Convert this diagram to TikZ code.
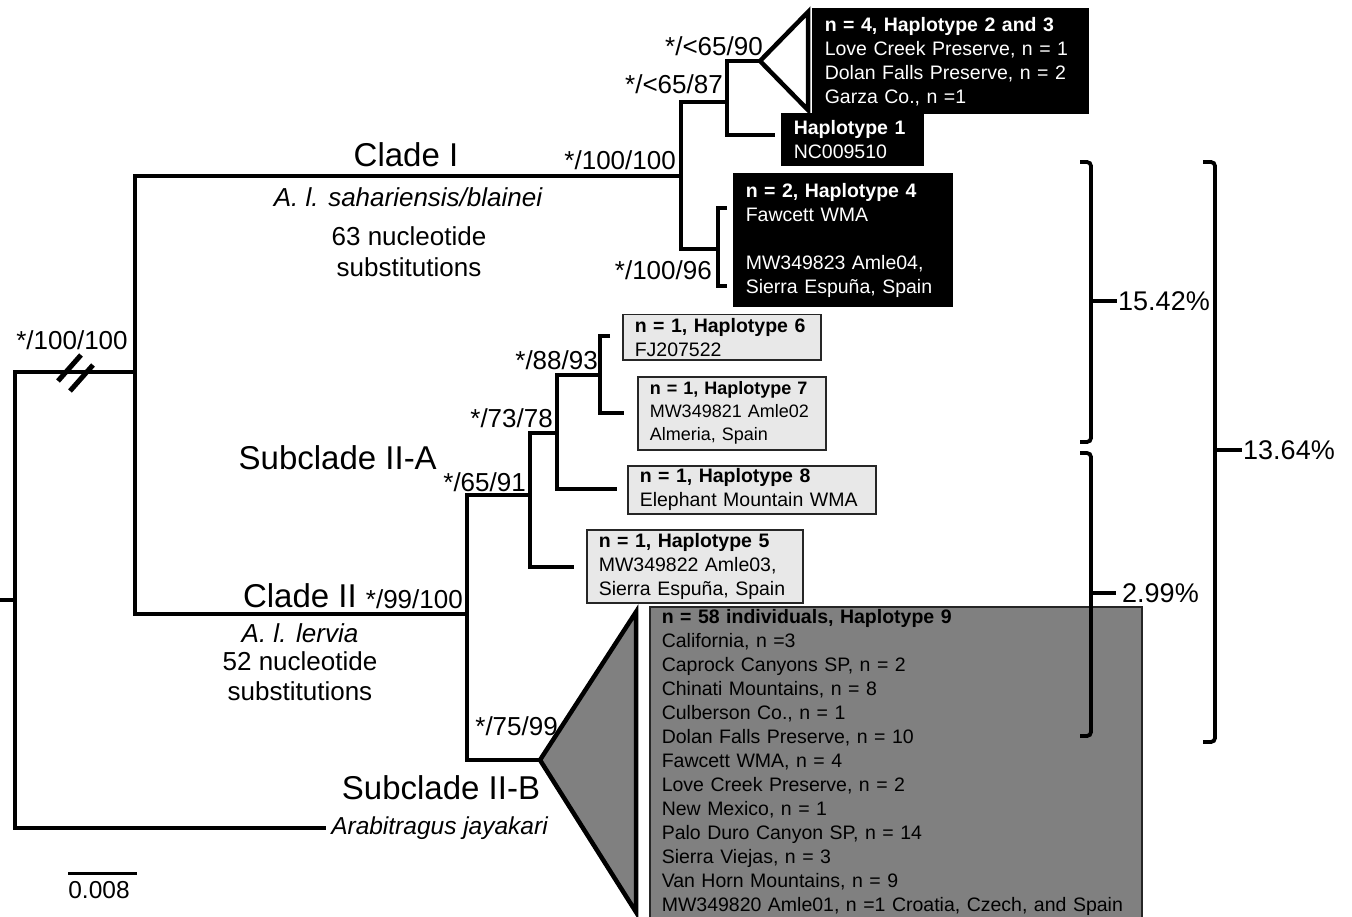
\documentclass[tikz,border=0pt]{standalone}
\usepackage{fontspec}
\setmainfont{Liberation Sans}
\usetikzlibrary{positioning}
\newcommand{\boxfont}{\fontsize{19.5}{24}\selectfont}
\newcommand{\smallboxfont}{\fontsize{18}{23}\selectfont}
\newcommand{\suppfont}{\fontsize{26}{30}\selectfont}
\newcommand{\cladefont}{\fontsize{33}{38}\selectfont}
\newcommand{\notefont}{\fontsize{26}{30}\selectfont}
\newcommand{\pctfont}{\fontsize{27}{30}\selectfont}

\begin{document}
\begin{tikzpicture}[x=1pt,y=-1pt,
    branch/.style={line width=4.5pt},
    brk/.style={line width=3.8pt,rounded corners=4pt},
    supp/.style={anchor=base east,inner sep=0pt,font=\suppfont},
    clade/.style={anchor=base,inner sep=0pt,font=\cladefont},
    note/.style={anchor=base,inner sep=0pt,font=\notefont},
    pct/.style={anchor=west,inner sep=1pt,font=\pctfont},
    hapbox/.style={anchor=north west,align=left,inner xsep=12pt,inner ysep=0pt,
                   font=\boxfont,line width=1.5pt},
    darkbox/.style={hapbox,draw=black,fill=black,text=white},
    lightbox/.style={hapbox,draw=black!85,fill=black!9},
    bigbox/.style={hapbox,inner ysep=3pt,draw=black!85,fill=black!50}]
  \useasboundingbox (0,0) rectangle (1352,917);

  % haplotype boxes
  \node[darkbox,text width=251pt,minimum height=105pt] (hap23) at (812,8)
    {\textbf{n = 4, Haplotype 2 and 3}\\Love Creek Preserve, n = 1\\Dolan Falls Preserve, n = 2\\Garza Co., n =1};
  \node[darkbox,text width=117pt,minimum height=52pt] (hap1) at (781,113)
    {\textbf{Haplotype 1}\\NC009510};
  \node[darkbox,text width=194pt,minimum height=133pt] (hap4) at (733,173)
    {\textbf{n = 2, Haplotype 4}\\Fawcett WMA\\[24pt]MW349823 Amle04,\\Sierra Espuña, Spain};
  \node[lightbox,text width=174pt,minimum height=45pt] (hap6) at (622,314)
    {\textbf{n = 1, Haplotype 6}\\FJ207522};
  \node[lightbox,font=\smallboxfont,text width=164pt,minimum height=73pt] (hap7) at (637,376)
    {\textbf{n = 1, Haplotype 7}\\MW349821 Amle02\\Almeria, Spain};
  \node[lightbox,text width=224pt,minimum height=48pt] (hap8) at (627,465)
    {\textbf{n = 1, Haplotype 8}\\Elephant Mountain WMA};
  \node[lightbox,text width=192pt,minimum height=73pt] (hap5) at (586,529)
    {\textbf{n = 1, Haplotype 5}\\MW349822 Amle03,\\Sierra Espuña, Spain};
  \node[bigbox,text width=468pt] (hap9) at (649,606)
    {\textbf{n = 58 individuals, Haplotype 9}\\California, n =3\\Caprock Canyons SP, n = 2\\
     Chinati Mountains, n = 8\\Culberson Co., n = 1\\Dolan Falls Preserve, n = 10\\
     Fawcett WMA, n = 4\\Love Creek Preserve, n = 2\\New Mexico, n = 1\\
     Palo Duro Canyon SP, n = 14\\Sierra Viejas, n = 3\\Van Horn Mountains, n = 9\\
     MW349820 Amle01, n =1 Croatia, Czech, and Spain};

  % tree nodes
  \coordinate (rtstub) at (0,600);
  \coordinate (rt) at (15,600);
  \coordinate (rtdn) at (15,828);
  \coordinate (ing) at (135,372);
  \coordinate (cut) at (75,372);
  \coordinate (ingdn) at (135,614);
  \coordinate (cI) at (681,176);
  \coordinate (cIdn) at (681,249);
  \coordinate (h13) at (727,102);
  \coordinate (h13dn) at (727,135);
  \coordinate (h23) at (760,61);
  \coordinate (t23a) at (808,12);
  \coordinate (t23b) at (808,110);
  \coordinate (h4) at (718,249);
  \coordinate (h4a) at (727,208);
  \coordinate (h4up) at (718,208);
  \coordinate (h4dn) at (718,286);
  \coordinate (h4b) at (727,286);
  \coordinate (cII) at (467,614);
  \coordinate (sA) at (530,495);
  \coordinate (sAdn) at (530,567);
  \coordinate (h68) at (557,433);
  \coordinate (h68dn) at (557,489);
  \coordinate (h67) at (600,375);
  \coordinate (h67up) at (600,336);
  \coordinate (h67tip) at (610,336);
  \coordinate (h67dn) at (600,413);
  \coordinate (cIIdn) at (467,760);
  \coordinate (sB) at (540,760);
  \coordinate (tBa) at (636,612);
  \coordinate (tBb) at (636,912);

  % branches
  \draw[branch] (rtstub) -- (rt);
  \draw[branch] (ing) -| (rtdn) -- (326,828) node[anchor=west,inner sep=3pt,
    font=\fontsize{24.5}{28}\selectfont\itshape] (outg) {Arabitragus jayakari};
  \draw[branch] (cI) -| (ingdn) -- (cII);
  \draw[branch] (h13) -| (cIdn) -- (h4);
  \draw[branch] (h23) -| (h13dn) -- ([xshift=-6pt]h13dn -| hap1.west);
  \draw[branch] (h4a) -- (h4up) -- (h4dn) -- (h4b);
  \draw[branch] (sA) -| (cIIdn) -- (sB);
  \draw[branch] (h68) -| (sAdn) -- ([xshift=-12pt]sAdn -| hap5.west);
  \draw[branch] (h67) -| (h68dn) -- ([xshift=-10pt]h68dn -| hap8.west);
  \draw[branch] (h67tip) -- (h67up) -- (h67dn) -- ([xshift=-13pt]h67dn -| hap7.west);
  \draw[branch,fill=white] (h23) -- (t23a) -- (t23b) -- cycle;
  \draw[branch,fill=black!50] (sB) -- (tBa) -- (tBb) -- cycle;
  \draw[line width=5pt] (cut) ++(-17,9) -- ++(23,-26);
  \draw[line width=5pt] (cut) ++(-5,19) -- ++(23,-26);

  % support values
  \node[supp] (s1) at (763,56) {*/<65/90};
  \node[supp] (s2) at (723,94) {*/<65/87};
  \node[supp] (s3) at (676,170) {*/100/100};
  \node[supp] (s4) at (712,280) {*/100/96};
  \node[supp,anchor=base] (s0) at (72,349) {*/100/100};
  \node[supp] (s5) at (598,369) {*/88/93};
  \node[supp] (s6) at (553,427) {*/73/78};
  \node[supp] (s7) at (526,491) {*/65/91};
  \node[supp] (s8) at (463,608) {*/99/100};
  \node[supp] (s9) at (558,735) {*/75/99};

  % clade labels
  \node[clade] (lcI) at (406,167) {Clade I};
  \node[note,font=\notefont\itshape] (lcIsp) at (408,207) {A. l. sahariensis/blainei};
  \node[note] (lcIa) at (409,246) {63 nucleotide};
  \node[note] (lcIb) at (409,277) {substitutions};
  \node[clade,anchor=base east] (lsA) at (437,469) {Subclade II-A};
  \node[clade,anchor=base east] (lcII) at (357,607) {Clade II};
  \node[note,font=\notefont\itshape] (lcIIsp) at (300,642) {A. l. lervia};
  \node[note] (lcIIa) at (300,670) {52 nucleotide};
  \node[note] (lcIIb) at (300,700) {substitutions};
  \node[clade] (lsB) at (441,799) {Subclade II-B};

  % scale bar
  \coordinate (sb1) at (68,873);
  \coordinate (sb2) at (137,873);
  \draw[line width=3pt] (sb1) -- (sb2);
  \node[anchor=base,inner sep=0pt,font=\fontsize{24.5}{28}\selectfont] (sbl) at (99,898) {0.008};

  % distance brackets
  \coordinate (k1a) at (1080,162); \coordinate (k1b) at (1091,162);
  \coordinate (k1c) at (1091,442); \coordinate (k1d) at (1080,442);
  \coordinate (k1m) at (1091,301);
  \coordinate (k2a) at (1080,453); \coordinate (k2b) at (1091,453);
  \coordinate (k2c) at (1091,736); \coordinate (k2d) at (1080,736);
  \coordinate (k2m) at (1091,593);
  \coordinate (k3a) at (1203,162); \coordinate (k3b) at (1215,162);
  \coordinate (k3c) at (1215,742); \coordinate (k3d) at (1203,742);
  \coordinate (k3m) at (1215,450);
  \draw[brk] (k1a) -- (k1b) -- (k1c) -- (k1d);
  \draw[brk] (k2a) -- (k2b) -- (k2c) -- (k2d);
  \draw[brk] (k3a) -- (k3b) -- (k3c) -- (k3d);
  \node[pct,right=26pt of k1m] (p1) {15.42\%};
  \node[pct,right=30pt of k2m] (p2) {2.99\%};
  \node[pct,right=27pt of k3m] (p3) {13.64\%};
  \draw[line width=3.8pt] (k1m) -- (k1m -| p1.west);
  \draw[line width=3.8pt] (k2m) -- ([xshift=-5pt]k2m -| p2.west);
  \draw[line width=3.8pt] (k3m) -- (k3m -| p3.west);
\end{tikzpicture}
\end{document}
